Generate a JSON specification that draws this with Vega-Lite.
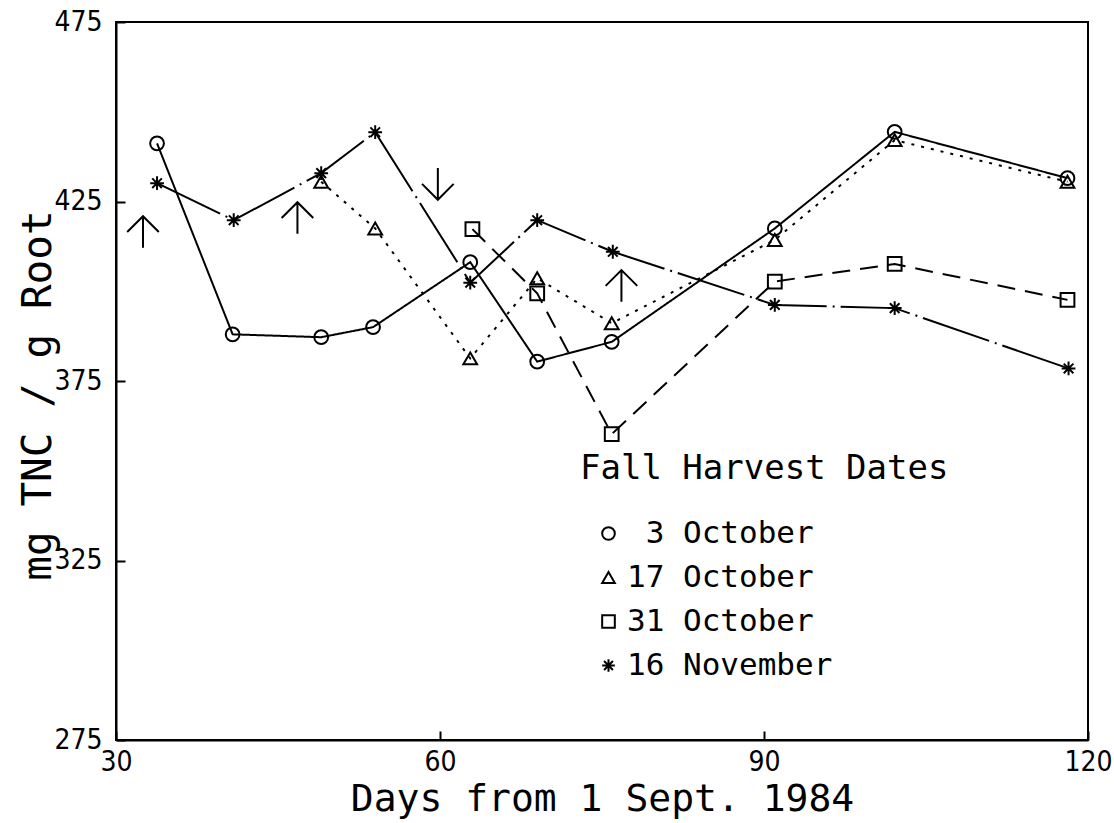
{
  "$schema": "https://vega.github.io/schema/vega-lite/v6.json",
  "width": 972,
  "height": 718,
  "autosize": "none",
  "padding": {"left": 116, "top": 22, "right": 26, "bottom": 83},
  "background": "white",
  "config": {
    "view": {"stroke": "black", "strokeWidth": 2},
    "axis": {
      "domainColor": "black", "domainWidth": 2,
      "tickColor": "black", "tickWidth": 2, "tickSize": -9,
      "grid": false,
      "labelColor": "black", "titleColor": "black",
      "labelFont": "DejaVu Sans Condensed, Liberation Sans", "labelFontSize": 28,
      "titleFont": "DejaVu Sans Mono", "titleFontWeight": "normal",
      "labelFlush": false, "labelOverlap": false
    }
  },
  "resolve": {"legend": {"shape": "independent", "strokeDash": "independent"}},
  "datasets": {
    "tnc": [
      {"date": "3 October", "day": 33.8, "tnc": 441.2},
      {"date": "3 October", "day": 40.8, "tnc": 388.0},
      {"date": "3 October", "day": 49.0, "tnc": 387.2},
      {"date": "3 October", "day": 53.8, "tnc": 390.0},
      {"date": "3 October", "day": 62.8, "tnc": 408.1},
      {"date": "3 October", "day": 69.0, "tnc": 380.4},
      {"date": "3 October", "day": 75.9, "tnc": 385.9},
      {"date": "3 October", "day": 91.0, "tnc": 417.5},
      {"date": "3 October", "day": 102.1, "tnc": 444.4},
      {"date": "3 October", "day": 118.1, "tnc": 431.5},
      {"date": "17 October", "day": 49.0, "tnc": 430.5},
      {"date": "17 October", "day": 54.0, "tnc": 417.5},
      {"date": "17 October", "day": 62.8, "tnc": 381.3},
      {"date": "17 October", "day": 69.0, "tnc": 403.6},
      {"date": "17 October", "day": 75.9, "tnc": 391.1},
      {"date": "17 October", "day": 91.0, "tnc": 414.3},
      {"date": "17 October", "day": 102.1, "tnc": 442.1},
      {"date": "17 October", "day": 118.1, "tnc": 430.5},
      {"date": "31 October", "day": 63.0, "tnc": 417.3},
      {"date": "31 October", "day": 69.0, "tnc": 399.4},
      {"date": "31 October", "day": 75.9, "tnc": 360.2},
      {"date": "31 October", "day": 91.0, "tnc": 402.7},
      {"date": "31 October", "day": 102.1, "tnc": 407.6},
      {"date": "31 October", "day": 118.1, "tnc": 397.6},
      {"date": "16 November", "day": 33.8, "tnc": 430.1},
      {"date": "16 November", "day": 40.9, "tnc": 419.8},
      {"date": "16 November", "day": 49.0, "tnc": 432.9},
      {"date": "16 November", "day": 54.0, "tnc": 444.3},
      {"date": "16 November", "day": 62.8, "tnc": 402.4},
      {"date": "16 November", "day": 69.0, "tnc": 419.8},
      {"date": "16 November", "day": 76.0, "tnc": 411.0},
      {"date": "16 November", "day": 91.0, "tnc": 396.2},
      {"date": "16 November", "day": 102.1, "tnc": 395.3},
      {"date": "16 November", "day": 118.2, "tnc": 378.5}
    ],
    "up_arrows": [
      {"day": 32.5, "tnc": 416.5},
      {"day": 46.8, "tnc": 420.4},
      {"day": 76.8, "tnc": 401.5}
    ],
    "down_arrows": [
      {"day": 59.8, "tnc": 429.9}
    ]
  },
  "encoding": {
    "x": {
      "field": "day", "type": "quantitative",
      "scale": {"domain": [30, 120], "nice": false, "zero": false},
      "axis": {
        "values": [30, 60, 90, 120], "labelPadding": 17,
        "title": "Days from 1 Sept. 1984", "titleFontSize": 38,
        "titleX": 486, "titleY": 70, "titleBaseline": "alphabetic"
      }
    },
    "y": {
      "field": "tnc", "type": "quantitative",
      "scale": {"domain": [275, 475], "nice": false, "zero": false},
      "axis": {
        "values": [275, 325, 375, 425, 475], "labelPadding": 23,
        "title": "mg TNC / g Root", "titleFontSize": 41,
        "titleX": -66, "titleY": 373, "titleBaseline": "alphabetic", "titleAngle": -90
      }
    }
  },
  "layer": [
    {
      "data": {"name": "tnc"},
      "mark": {"type": "line", "color": "black", "strokeWidth": 2},
      "encoding": {
        "detail": {"field": "date"},
        "strokeDash": {
          "field": "date", "type": "nominal",
          "scale": {
            "domain": ["3 October", "17 October", "31 October", "16 November"],
            "range": [[1, 0], [3, 7], [18, 10], [70, 6, 2, 6]]
          },
          "legend": null
        }
      }
    },
    {
      "data": {"name": "tnc"},
      "mark": {"type": "point", "filled": false, "color": "black", "strokeWidth": 2, "size": 190, "opacity": 1},
      "encoding": {
        "shape": {
          "field": "date", "type": "nominal",
          "scale": {
            "domain": ["3 October", "17 October", "31 October", "16 November"],
            "range": ["circle", "triangle-up", "square", "M0,-1L0,1M-1,0L1,0M-0.7,-0.7L0.7,0.7M-0.7,0.7L0.7,-0.7"]
          },
          "legend": {
            "orient": "none", "legendX": 464, "legendY": 430,
            "title": "Fall Harvest Dates",
            "titleFont": "DejaVu Sans Mono", "titleFontSize": 34, "titleFontWeight": "normal", "titleColor": "black", "titleLimit": 0,
            "labelFont": "DejaVu Sans Mono", "labelFontSize": 31, "labelColor": "black", "labelLimit": 0,
            "symbolSize": 160, "symbolStrokeWidth": 2, "symbolStrokeColor": "black", "symbolFillColor": "transparent",
            "symbolOffset": 13, "labelOffset": 3, "rowPadding": 12, "titlePadding": 32,
            "labelExpr": "datum.value == '3 October' ? '\u200b\u00a03 October' : datum.label"
          }
        }
      }
    },
    {
      "data": {"name": "up_arrows"},
      "mark": {"type": "point", "filled": false, "color": "black", "strokeWidth": 2, "size": 1000, "opacity": 1,
               "shape": "M0,-1L0,1M-1,0L0,-1L1,0"}
    },
    {
      "data": {"name": "down_arrows"},
      "mark": {"type": "point", "filled": false, "color": "black", "strokeWidth": 2, "size": 1000, "opacity": 1,
               "shape": "M0,-1L0,1M-1,0L0,1L1,0"}
    }
  ]
}
